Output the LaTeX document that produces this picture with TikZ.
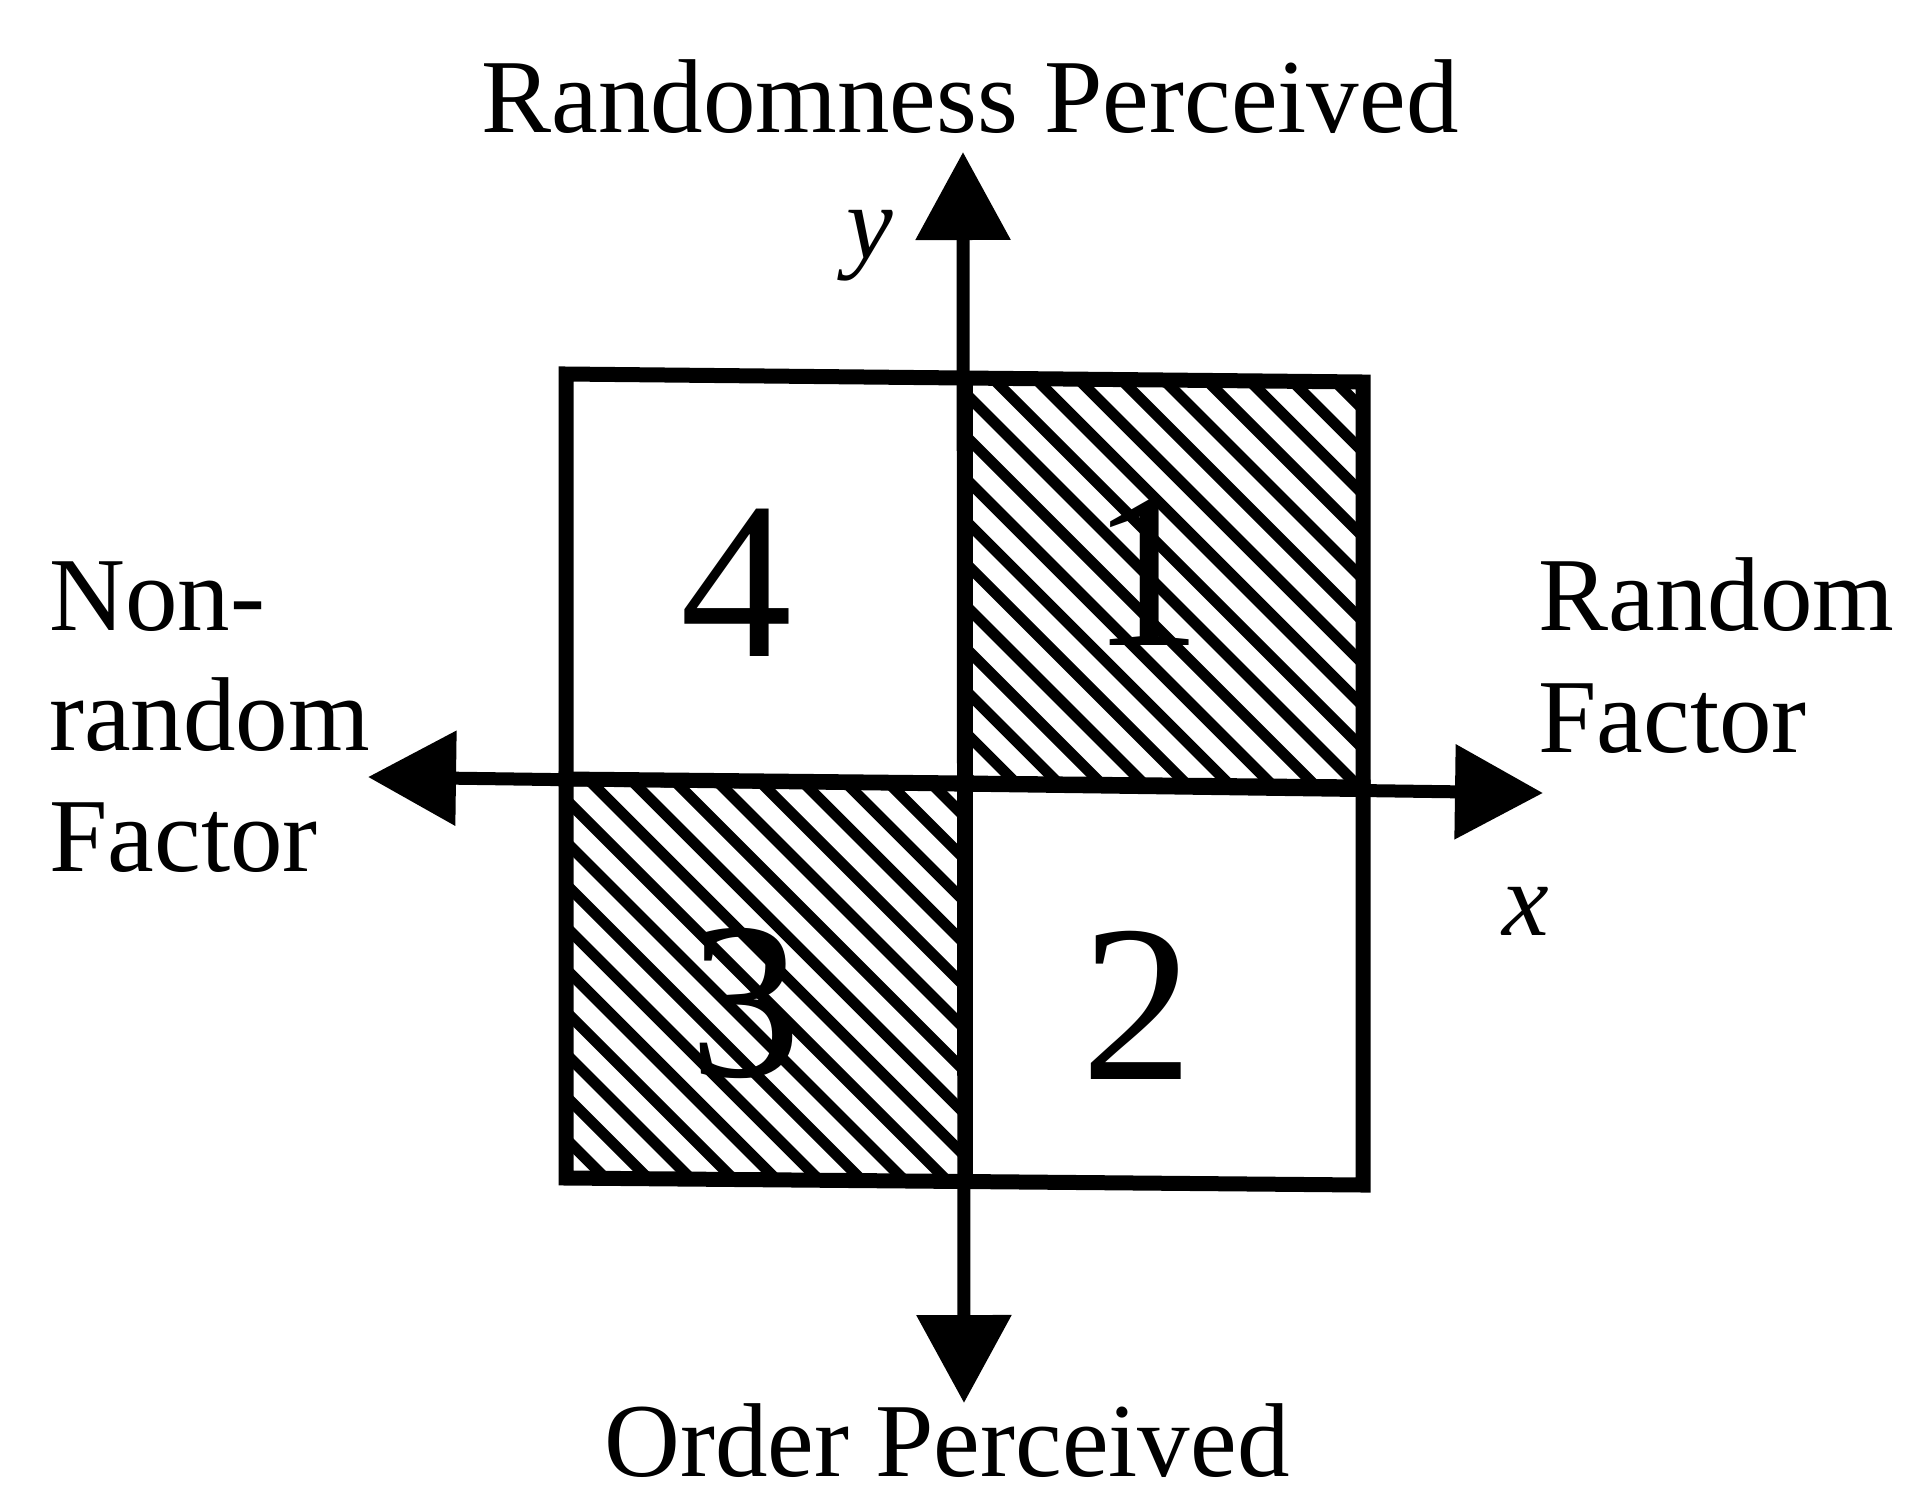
\documentclass[tikz,border=0pt]{standalone}
\usepackage{fontspec}
\setmainfont{Liberation Serif}
\usetikzlibrary{arrows.meta}
\begin{document}
\begin{tikzpicture}[x=0.5pt,y=-0.5pt,
  lbl/.style={inner sep=0pt, font=\fontsize{52.5}{60}\selectfont},
  num/.style={inner sep=0pt, font=\fontsize{112}{120}\selectfont, anchor=base},
  axis/.style={line width=6.5pt, {Triangle[length=44pt,width=46pt]}-{Triangle[length=44pt,width=46pt]}},
  box/.style={line width=7.5pt, line join=miter, line cap=rect},
  hatch/.style={line width=5.5pt}
]
\useasboundingbox (0,0) rectangle (1917,1495);
% grid corners
\coordinate (TL) at (566,374);
\coordinate (TM) at (965,378);
\coordinate (TR) at (1363,382);
\coordinate (ML) at (566,779);
\coordinate (C)  at (965,783);
\coordinate (MR) at (1363,787);
\coordinate (BL) at (566,1178);
\coordinate (BM) at (965,1181);
\coordinate (BR) at (1363,1185);
% hatching quadrant 1
\begin{scope}
  \clip (TM) -- (TR) -- (MR) -- (C) -- cycle;
  \foreach \c in {-700,-657.6,...,1100} \draw[hatch] (\c+200,200) -- (\c+1300,1300);
\end{scope}
% hatching quadrant 3
\begin{scope}
  \clip (ML) -- (C) -- (BM) -- (BL) -- cycle;
  \foreach \c in {-700,-657.6,...,1100} \draw[hatch] (\c+200,200) -- (\c+1300,1300);
\end{scope}
% grid
\draw[box] (TL) -- (TR) -- (BR) -- (BL) -- cycle;
\draw[box] (TM) -- (BM);
\draw[box] (ML) -- (MR);
% axes
\coordinate (xl) at (368,777);
\coordinate (xr) at (1543,793);
\coordinate (yt) at (963,152);
\coordinate (yb) at (964,1403);
\draw[axis] (xl) -- (xr);
\draw[axis] (yb) -- (yt);
% quadrant numbers
\node[num] (n4) at (736,656) {4};
\node[num] (n1) at (1146,645) {1};
\node[num] (n3) at (745,1076) {3};
\node[num] (n2) at (1137,1079) {2};
% labels
\node[lbl, anchor=base] (toplab) at (970,132) {Randomness Perceived};
\node[lbl, anchor=base] (botlab) at (947,1476) {Order Perceived};
\node[lbl, anchor=base] (ylab) at (870,258) {\itshape y};
\node[lbl, anchor=base] (xlab) at (1526,935) {\itshape x};
\node[lbl, anchor=base west] (nr1) at (49,630) {Non-};
\node[lbl, anchor=base west] (nr2) at (49,750) {random};
\node[lbl, anchor=base west] (nr3) at (49,871) {Factor};
\node[lbl, anchor=base west] (rf1) at (1538,630) {Random};
\node[lbl, anchor=base west] (rf2) at (1538,752) {Factor};
\end{tikzpicture}
\end{document}
